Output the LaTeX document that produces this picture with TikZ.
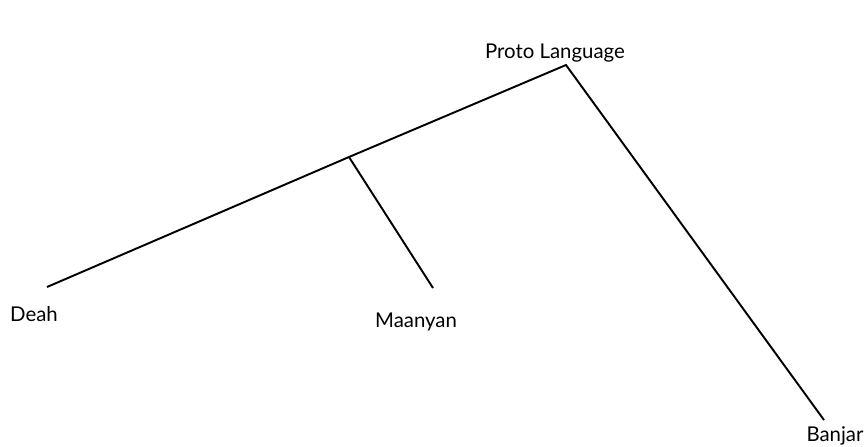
\documentclass[tikz,border=0pt]{standalone}
\usepackage{fontspec}
\setmainfont{Lato}
\begin{document}
\begin{tikzpicture}[x=0.02cm, y=-0.02cm,
  lang/.style={font=\fontsize{11.6}{13}\selectfont, inner sep=0pt},
  branch/.style={line width=1.1pt}]
\useasboundingbox (0,0) rectangle (867,447);
\coordinate (root) at (566,65);
\coordinate (mid) at (349,157);
\coordinate (deahend) at (47,287);
\coordinate (maanyanend) at (433,288);
\coordinate (banjarend) at (824,420);
\node[lang] (proto) at (555,53) {Proto Language};
\node[lang] (deah) at (34,314) {Deah};
\node[lang] (maanyan) at (416,322) {Maanyan};
\node[lang] (banjar) at (835,436) {Banjar};
\draw[branch] (deahend) -- (mid) -- (root) -- (banjarend);
\draw[branch] (mid) -- (maanyanend);
\end{tikzpicture}
\end{document}
